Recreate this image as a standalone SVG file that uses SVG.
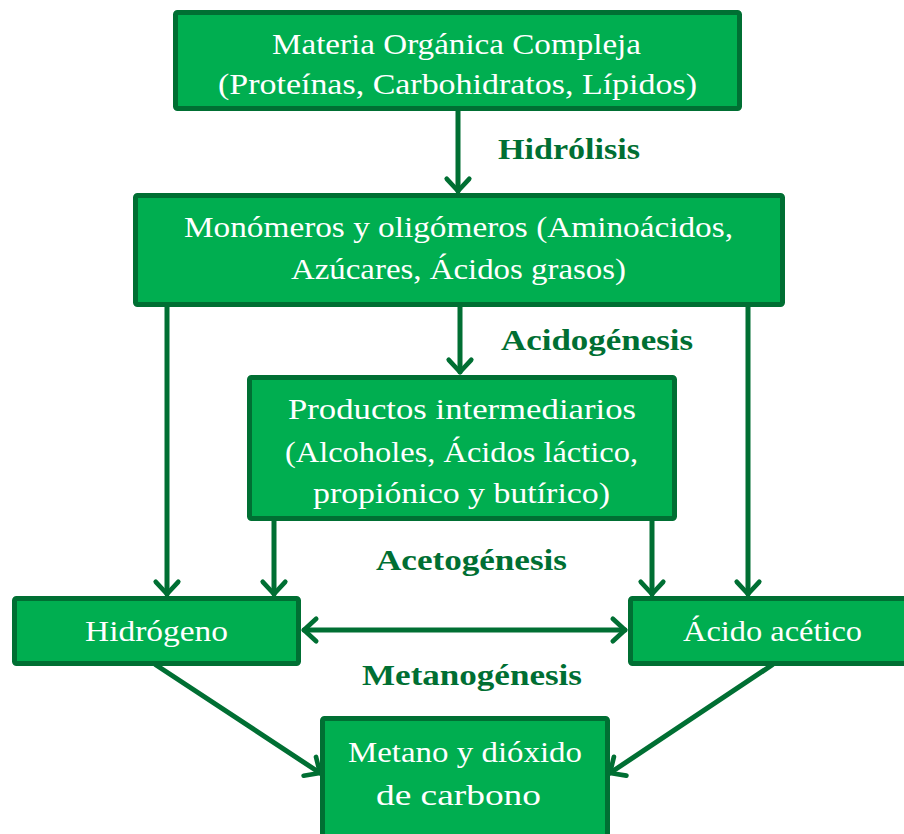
<svg xmlns="http://www.w3.org/2000/svg" width="904" height="834" viewBox="0 0 904 834">
  <style>
    .box { fill: #00AE50; stroke: #006F33; stroke-width: 5; }
    .txt { font-family: "Liberation Serif", "DejaVu Serif", serif; font-size: 30px; fill: #FFFFFF; text-anchor: middle; }
    .lbl { font-family: "Liberation Serif", "DejaVu Serif", serif; font-size: 29px; font-weight: bold; fill: #006F33; text-anchor: middle; }
    .conn { stroke: #006F33; stroke-width: 5; fill: none; stroke-linecap: round; }
  </style>
  <defs>
    <marker id="arrow" markerUnits="userSpaceOnUse" markerWidth="30" markerHeight="30" viewBox="-16 -16 32 32" refX="0" refY="0" orient="auto-start-reverse" overflow="visible">
      <path d="M-13,-12 L0,0 L-13,12" fill="none" stroke="#006F33" stroke-width="5" stroke-linecap="round" stroke-linejoin="round"/>
    </marker>
  </defs>

  <rect width="904" height="834" fill="#FFFFFF"/>

  <!-- connectors -->
  <g id="connectors">
    <line class="conn" x1="458" y1="111" x2="458" y2="191" marker-end="url(#arrow)"/>
    <line class="conn" x1="460" y1="307" x2="460" y2="372" marker-end="url(#arrow)"/>
    <line class="conn" x1="167" y1="297" x2="167" y2="594" marker-end="url(#arrow)"/>
    <line class="conn" x1="274" y1="519" x2="274" y2="594" marker-end="url(#arrow)"/>
    <line class="conn" x1="652" y1="519" x2="652" y2="594" marker-end="url(#arrow)"/>
    <line class="conn" x1="748" y1="297" x2="748" y2="594" marker-end="url(#arrow)"/>
    <line class="conn" x1="304" y1="630" x2="625" y2="630" marker-start="url(#arrow)" marker-end="url(#arrow)"/>
    <line class="conn" x1="156" y1="665" x2="320" y2="773" marker-end="url(#arrow)"/>
    <line class="conn" x1="772" y1="665" x2="610" y2="773" marker-end="url(#arrow)"/>
  </g>

  <!-- process stage labels -->
  <g id="labels">
    <text class="lbl" x="569" y="159" textLength="142" lengthAdjust="spacingAndGlyphs">Hidrólisis</text>
    <text class="lbl" x="597" y="350" textLength="192" lengthAdjust="spacingAndGlyphs">Acidogénesis</text>
    <text class="lbl" x="471.5" y="570" textLength="191" lengthAdjust="spacingAndGlyphs">Acetogénesis</text>
    <text class="lbl" x="472" y="685" textLength="220" lengthAdjust="spacingAndGlyphs">Metanogénesis</text>
  </g>

  <g id="materia-organica">
    <rect class="box" x="175.5" y="12.5" width="564" height="96" rx="2"/>
    <text class="txt" x="456.5" y="54" textLength="369" lengthAdjust="spacingAndGlyphs">Materia Orgánica Compleja</text>
    <text class="txt" x="457.5" y="94" textLength="479" lengthAdjust="spacingAndGlyphs">(Proteínas, Carbohidratos, Lípidos)</text>
  </g>

  <g id="monomeros">
    <rect class="box" x="135.5" y="195.5" width="647" height="109" rx="2"/>
    <text class="txt" x="458.5" y="237" textLength="549" lengthAdjust="spacingAndGlyphs">Monómeros y oligómeros (Aminoácidos,</text>
    <text class="txt" x="458.5" y="279" textLength="335" lengthAdjust="spacingAndGlyphs">Azúcares, Ácidos grasos)</text>
  </g>

  <g id="intermedios">
    <rect class="box" x="249.5" y="377.5" width="425" height="141" rx="2"/>
    <text class="txt" x="462" y="419" textLength="348" lengthAdjust="spacingAndGlyphs">Productos intermediarios</text>
    <text class="txt" x="461.5" y="462" textLength="353" lengthAdjust="spacingAndGlyphs">(Alcoholes, Ácidos láctico,</text>
    <text class="txt" x="461.5" y="503" textLength="297" lengthAdjust="spacingAndGlyphs">propiónico y butírico)</text>
  </g>

  <g id="hidrogeno">
    <rect class="box" x="14.5" y="598.5" width="284" height="65" rx="2"/>
    <text class="txt" x="156.5" y="641" textLength="143" lengthAdjust="spacingAndGlyphs">Hidrógeno</text>
  </g>

  <g id="acido-acetico">
    <rect class="box" x="630.5" y="598.5" width="290" height="65" rx="2"/>
    <text class="txt" x="772.5" y="641" textLength="179" lengthAdjust="spacingAndGlyphs">Ácido acético</text>
  </g>

  <g id="metano">
    <rect class="box" x="322.5" y="718.5" width="285" height="125" rx="2"/>
    <text class="txt" x="465" y="762" textLength="234" lengthAdjust="spacingAndGlyphs">Metano y dióxido</text>
    <text class="txt" x="458.5" y="805" textLength="165" lengthAdjust="spacingAndGlyphs">de carbono</text>
  </g>
</svg>
